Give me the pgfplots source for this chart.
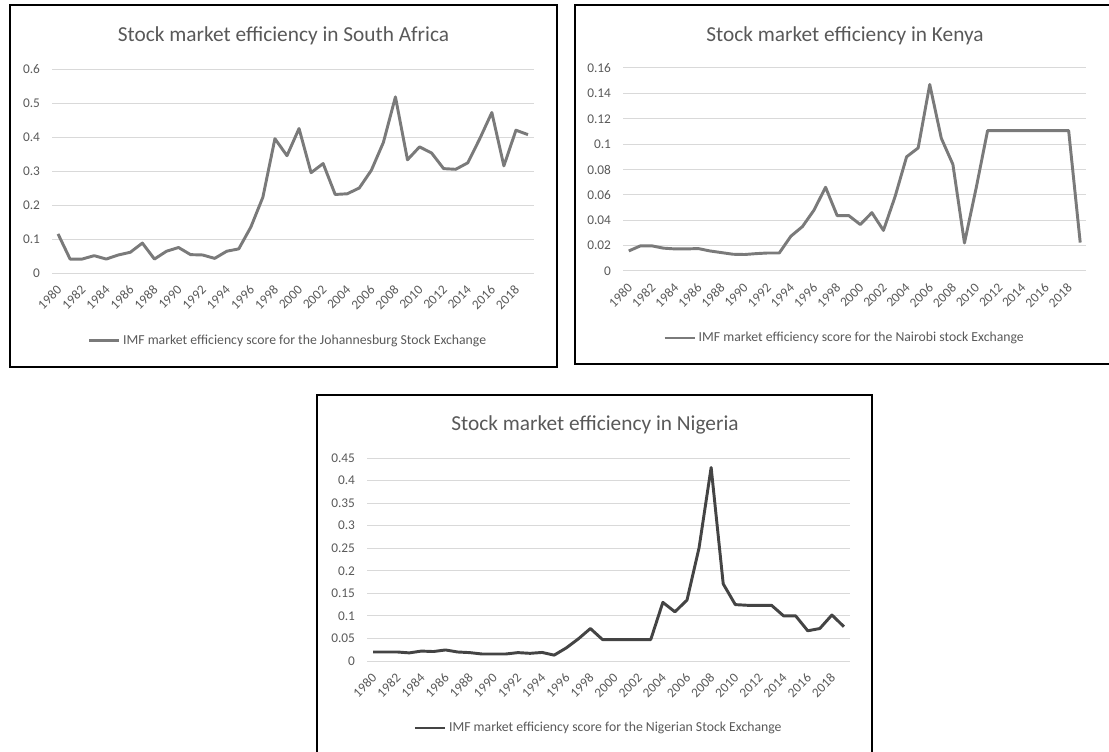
\documentclass[border=0pt]{standalone}
\usepackage{pgfplots}
\pgfplotsset{compat=1.18}
\usepackage{fontspec}
\setmainfont{Carlito}
\definecolor{linegrey}{RGB}{122,122,122}
\definecolor{darkline}{RGB}{68,68,68}
\definecolor{gridgrey}{RGB}{217,217,217}
\definecolor{txtgrey}{RGB}{89,89,89}

\pgfplotsset{
 effstyle/.style={
  scale only axis,
  xmin=1979.5, xmax=2019.5,
  ymin=0,
  xtick={1980,1982,...,2018},
  axis line style={draw=none},
  tick style={draw=none},
  ymajorgrids,
  grid style={gridgrey, line width=0.75pt},
  tick label style={font=\fontsize{10}{12}\selectfont, text=txtgrey},
  /pgf/number format/assume math mode=true,
  /pgf/number format/1000 sep={},
  xticklabel style={xshift=1pt, yshift=-11pt, rotate=45, anchor=east, inner sep=0pt},
  yticklabel style={xshift=-5.5pt},
  legend style={draw=none, fill=none, font=\fontsize{10.3}{12}\selectfont, text=txtgrey, anchor=center},
  legend image code/.code={\draw[##1] (0pt,0pt) -- (22.5pt,0pt);},
 }
}

\begin{document}
\begin{tikzpicture}
\useasboundingbox (0,0) rectangle (831.75pt,563.25pt);
\clip (0,0) rectangle (831.75pt,563.25pt);

% frames
\draw[line width=1.6pt] (7.5pt,288pt) rectangle (417.75pt,559.5pt);
\draw[line width=1.6pt] (431.25pt,290.25pt) rectangle (840pt,559.5pt);
\draw[line width=1.6pt] (237.75pt,-10pt) rectangle (654pt,267pt);

% titles
\node[font=\fontsize{16}{19}\selectfont, text=txtgrey] at (212.6pt,536.5pt) {Stock market efficiency in South Africa};
\node[font=\fontsize{16}{19}\selectfont, text=txtgrey] at (633.75pt,536.5pt) {Stock market efficiency in Kenya};
\node[font=\fontsize{16}{19}\selectfont, text=txtgrey] at (446.25pt,244.5pt) {Stock market efficiency in Nigeria};

% South Africa
\begin{axis}[effstyle, at={(39pt,358.5pt)}, anchor=south west,
  width=361.5pt, height=153pt, ymax=0.6,
  ytick={0,0.1,0.2,0.3,0.4,0.5,0.6},
  yticklabels={0,0.1,0.2,0.3,0.4,0.5,0.6},
  legend style={at={(0.49,-0.333)}}]
\addplot[linegrey, line width=2.2pt, line join=round] table {
x y
1980 0.115
1981 0.041
1982 0.041
1983 0.051
1984 0.041
1985 0.053
1986 0.061
1987 0.088
1988 0.041
1989 0.064
1990 0.075
1991 0.054
1992 0.053
1993 0.043
1994 0.064
1995 0.071
1996 0.135
1997 0.223
1998 0.395
1999 0.345
2000 0.425
2001 0.295
2002 0.322
2003 0.231
2004 0.233
2005 0.250
2006 0.302
2007 0.384
2008 0.518
2009 0.333
2010 0.371
2011 0.353
2012 0.307
2013 0.305
2014 0.324
2015 0.395
2016 0.472
2017 0.315
2018 0.420
2019 0.407
};
\legend{IMF market efficiency score for the Johannesburg Stock Exchange}
\end{axis}

% Kenya
\begin{axis}[effstyle, at={(467.25pt,360pt)}, anchor=south west,
  width=347.25pt, height=152.25pt, ymax=0.16,
  ytick={0,0.02,0.04,0.06,0.08,0.1,0.12,0.14,0.16},
  yticklabels={0,0.02,0.04,0.06,0.08,0.1,0.12,0.14,0.16},
  legend style={at={(0.479,-0.33)}}]
\addplot[linegrey, line width=2.2pt, line join=round] table {
x y
1980 0.0158
1981 0.0198
1982 0.0198
1983 0.0180
1984 0.0174
1985 0.0174
1986 0.0177
1987 0.0158
1988 0.0145
1989 0.0132
1990 0.0130
1991 0.0137
1992 0.0142
1993 0.0142
1994 0.0274
1995 0.0350
1996 0.0480
1997 0.0660
1998 0.0437
1999 0.0437
2000 0.0366
2001 0.0460
2002 0.0320
2003 0.0585
2004 0.0900
2005 0.0970
2006 0.1470
2007 0.1046
2008 0.0840
2009 0.0221
2010 0.0650
2011 0.1107
2012 0.1107
2013 0.1107
2014 0.1107
2015 0.1107
2016 0.1107
2017 0.1107
2018 0.1107
2019 0.0224
};
\legend{IMF market efficiency score for the Nairobi stock Exchange}
\end{axis}

% Nigeria
\begin{axis}[effstyle, at={(275.25pt,67.5pt)}, anchor=south west,
  width=362.25pt, height=152.25pt, ymax=0.45,
  ytick={0,0.05,0.1,0.15,0.2,0.25,0.3,0.35,0.4,0.45},
  yticklabels={0,0.05,0.1,0.15,0.2,0.25,0.3,0.35,0.4,0.45},
  legend style={at={(0.48,-0.33)}}]
\addplot[darkline, line width=2.2pt, line join=round] table {
x y
1980 0.020
1981 0.020
1982 0.020
1983 0.018
1984 0.022
1985 0.021
1986 0.0245
1987 0.020
1988 0.0186
1989 0.0156
1990 0.0156
1991 0.0156
1992 0.0186
1993 0.017
1994 0.019
1995 0.013
1996 0.029
1997 0.049
1998 0.072
1999 0.0476
2000 0.0476
2001 0.0476
2002 0.0476
2003 0.0476
2004 0.130
2005 0.109
2006 0.135
2007 0.251
2008 0.429
2009 0.171
2010 0.125
2011 0.1235
2012 0.1235
2013 0.1235
2014 0.100
2015 0.100
2016 0.067
2017 0.072
2018 0.102
2019 0.076
};
\legend{IMF market efficiency score for the Nigerian Stock Exchange}
\end{axis}
\end{tikzpicture}
\end{document}
